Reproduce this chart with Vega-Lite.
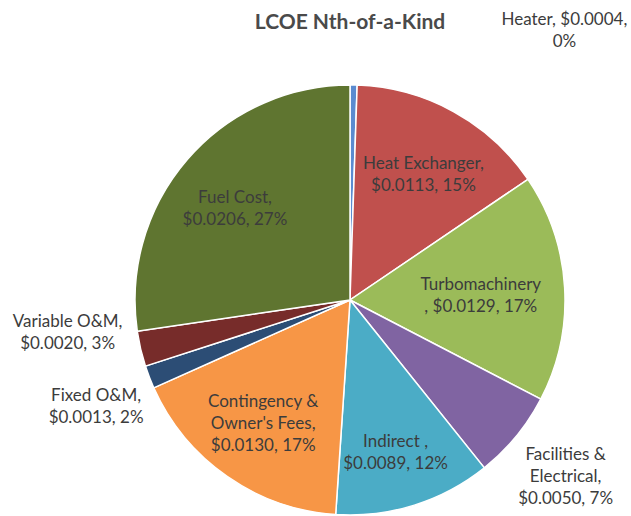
{
  "$schema": "https://vega.github.io/schema/vega-lite/v6.json",
  "autosize": {"type": "none"},
  "width": 430,
  "height": 430,
  "padding": {"left": 135, "top": 85, "right": 66, "bottom": 1},
  "background": "white",
  "title": {
    "text": "LCOE Nth-of-a-Kind",
    "font": "Lato",
    "fontSize": 21,
    "fontWeight": "bold",
    "color": "#4a4a4a",
    "anchor": "middle",
    "frame": "group",
    "baseline": "alphabetic",
    "dx": 0,
    "offset": -93
  },
  "config": {"view": {"stroke": null}, "text": {"font": "Lato", "fontSize": 17, "color": "#3c3c3c", "lineHeight": 22, "baseline": "middle"}},
  "data": {
    "values": [
      {"idx": 1, "name": "Heater", "value": 0.0004, "label": ["Heater, $0.0004,", "0%"]},
      {"idx": 2, "name": "Heat Exchanger", "value": 0.0113, "label": ["Heat Exchanger,", "$0.0113, 15%"]},
      {"idx": 3, "name": "Turbomachinery", "value": 0.0129, "label": ["Turbomachinery", ", $0.0129, 17%"]},
      {"idx": 4, "name": "Facilities & Electrical", "value": 0.0050, "label": ["Facilities &", "Electrical,", "$0.0050, 7%"]},
      {"idx": 5, "name": "Indirect", "value": 0.0089, "label": ["Indirect ,", "$0.0089, 12%"]},
      {"idx": 6, "name": "Contingency & Owner's Fees", "value": 0.0130, "label": ["Contingency &", "Owner's Fees,", "$0.0130, 17%"]},
      {"idx": 7, "name": "Fixed O&M", "value": 0.0013, "label": ["Fixed O&M,", "$0.0013, 2%"]},
      {"idx": 8, "name": "Variable O&M", "value": 0.0020, "label": ["Variable O&M,", "$0.0020, 3%"]},
      {"idx": 9, "name": "Fuel Cost", "value": 0.0206, "label": ["Fuel Cost,", "$0.0206, 27%"]}
    ]
  },
  "encoding": {
    "theta": {"field": "value", "type": "quantitative", "stack": true},
    "order": {"field": "idx", "type": "quantitative", "sort": "ascending"}
  },
  "layer": [
    {
      "mark": {"type": "arc", "stroke": "white", "strokeWidth": 1.5},
      "encoding": {
        "color": {
          "field": "name",
          "type": "nominal",
          "legend": null,
          "scale": {
            "domain": ["Heater", "Heat Exchanger", "Turbomachinery", "Facilities & Electrical", "Indirect", "Contingency & Owner's Fees", "Fixed O&M", "Variable O&M", "Fuel Cost"],
            "range": ["#5b8bd0", "#c0504d", "#9bbb59", "#8064a2", "#4bacc6", "#f79646", "#2c4d75", "#772c2a", "#5f7530"]
          }
        }
      }
    },
    {
      "mark": {"type": "text", "radius": 152, "dy": -3},
      "encoding": {
        "text": {"condition": {"test": "indexof(['Heat Exchanger','Indirect','Fuel Cost'], datum.name) >= 0", "field": "label"}, "value": ""}
      }
    },
    {
      "mark": {"type": "text", "radius": 152, "dy": -23},
      "encoding": {
        "text": {"condition": {"test": "datum.idx === 6", "field": "label"}, "value": ""}
      }
    },
    {
      "mark": {"type": "text", "radius": 131, "dy": -7},
      "encoding": {
        "text": {"condition": {"test": "datum.name === 'Turbomachinery'", "field": "label"}, "value": ""}
      }
    },
    {
      "mark": {"type": "text", "radius": 279, "dy": -22},
      "encoding": {
        "text": {"condition": {"test": "datum.name === 'Facilities & Electrical'", "field": "label"}, "value": ""}
      }
    },
    {
      "mark": {"type": "text", "radius": 272, "dy": -2},
      "encoding": {
        "text": {"condition": {"test": "datum.name === 'Fixed O&M'", "field": "label"}, "value": ""}
      }
    },
    {
      "mark": {"type": "text", "radius": 290, "dy": -44},
      "encoding": {
        "text": {"condition": {"test": "datum.name === 'Variable O&M'", "field": "label"}, "value": ""}
      }
    },
    {
      "mark": {"type": "text", "radius": 265, "dx": 210, "dy": -15},
      "encoding": {
        "text": {"condition": {"test": "datum.name === 'Heater'", "field": "label"}, "value": ""}
      }
    }
  ]
}
